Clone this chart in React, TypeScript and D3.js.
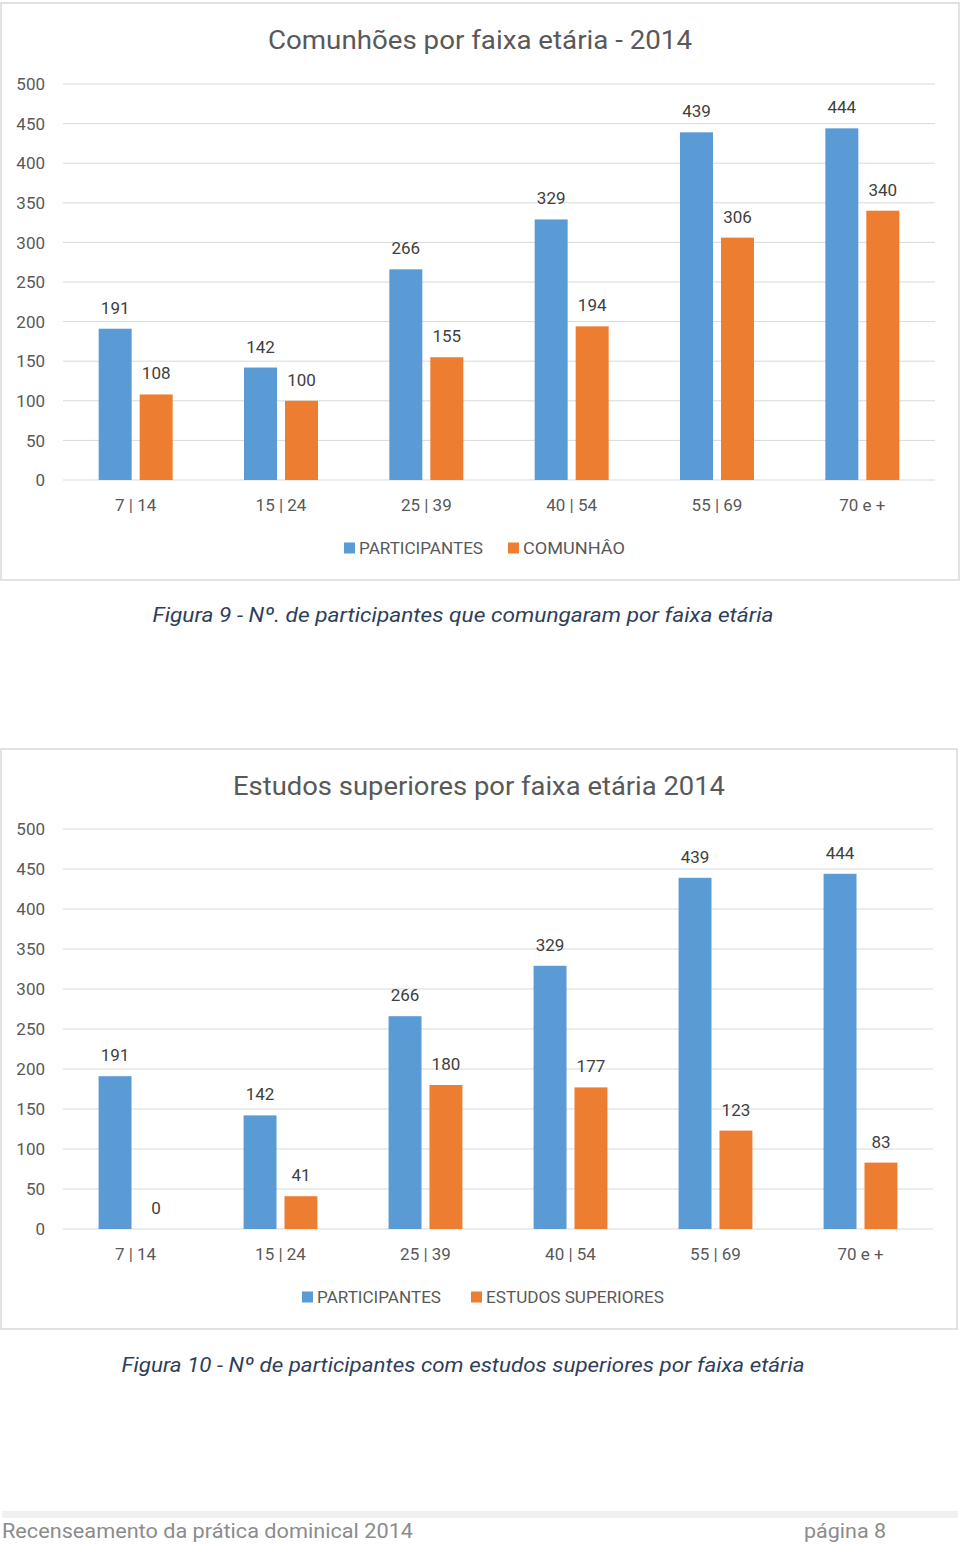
import React from "react";
import * as d3 from "d3";

const categories = ["7 | 14", "15 | 24", "25 | 39", "40 | 54", "55 | 69", "70 e +"];
const participantes = [191, 142, 266, 329, 439, 444];
const comunhao = [108, 100, 155, 194, 306, 340];
const estudosSuperiores = [0, 41, 180, 177, 123, 83];
const yTicks = [0, 50, 100, 150, 200, 250, 300, 350, 400, 450, 500];

const BLUE = "#5B9BD5";
const ORANGE = "#ED7D31";
const FONT = "Roboto, 'Open Sans', sans-serif";

type ChartProps = {
  box: { x: number; y: number; w: number; h: number };
  title: string;
  titleY: number;
  titleX: number;
  titleLen: number;
  x0: number;
  x1: number;
  yTop: number;
  yBottom: number;
  series: { name: string; values: number[]; color: string }[];
  catY: number;
  legendY: number;
  legendX: number[];
  legendLen: number[];
};

function Chart(p: ChartProps) {
  const x = d3.scaleBand<string>().domain(categories).range([p.x0, p.x1]).paddingInner(0).paddingOuter(0);
  const inner = d3
    .scaleBand<string>()
    .domain(p.series.map((s) => s.name))
    .range([0, x.bandwidth()])
    .paddingInner(8 / 41)
    .paddingOuter(0.87);
  const y = d3.scaleLinear().domain([0, 500]).range([p.yBottom, p.yTop]);
  return (
    <g>
      <rect x={p.box.x} y={p.box.y} width={p.box.w} height={p.box.h} fill="#fff" stroke="#d9d9d9" strokeWidth={1.5} />
      <text x={p.titleX} y={p.titleY} textAnchor="middle" fontSize={26} fill="#595959" fontFamily={FONT} textLength={p.titleLen} lengthAdjust="spacingAndGlyphs">
        {p.title}
      </text>
      {yTicks.map((t) => (
        <g key={t}>
          <line x1={p.x0} x2={p.x1} y1={y(t)} y2={y(t)} stroke="#d9d9d9" strokeWidth={1} />
          <text x={45} y={y(t)} dy="0.36em" textAnchor="end" fontSize={17} fill="#595959" fontFamily={FONT}>
            {t}
          </text>
        </g>
      ))}
      {categories.map((c, i) => (
        <g key={c}>
          {p.series.map((s) => {
            const bx = (x(c) as number) + (inner(s.name) as number);
            const v = s.values[i];
            return (
              <g key={s.name}>
                <rect x={bx} y={y(v)} width={inner.bandwidth()} height={y(0) - y(v)} fill={s.color} />
                <text x={bx + inner.bandwidth() / 2} y={y(v) - 15} textAnchor="middle" fontSize={17} fill="#404040" fontFamily={FONT}>
                  {v}
                </text>
              </g>
            );
          })}
          <text x={(x(c) as number) + x.bandwidth() / 2} y={p.catY} textAnchor="middle" fontSize={17} fill="#595959" fontFamily={FONT}>
            {c}
          </text>
        </g>
      ))}
      {p.series.map((s, i) => (
        <g key={s.name}>
          <rect x={p.legendX[i]} y={p.legendY - 5.5} width={11} height={11} fill={s.color} />
          <text x={p.legendX[i] + 15} y={p.legendY} dy="0.36em" fontSize={17} fill="#595959" fontFamily={FONT} textLength={p.legendLen[i]} lengthAdjust="spacingAndGlyphs">
            {s.name}
          </text>
        </g>
      ))}
    </g>
  );
}

export default function App() {
  return (
    <div style={{ position: "absolute", left: 0, top: 0 }}>
      <svg width={960} height={1544} style={{ display: "block" }}>
        <rect x={0} y={0} width={960} height={1544} fill="#fff" />
        <Chart
          box={{ x: 1, y: 3, w: 958, h: 577 }}
          title="Comunhões por faixa etária - 2014"
          titleX={480}
          titleY={49}
          titleLen={424}
          x0={63}
          x1={935}
          yTop={84}
          yBottom={480}
          series={[
            { name: "PARTICIPANTES", values: participantes, color: BLUE },
            { name: "COMUNHÂO", values: comunhao, color: ORANGE },
          ]}
          catY={511}
          legendY={548}
          legendX={[344, 508]}
          legendLen={[124, 102]}
        />
        <text x={463} y={622} textAnchor="middle" fontSize={21} fontStyle="italic" fill="#2F3E5C" fontFamily={FONT} textLength={621} lengthAdjust="spacingAndGlyphs">
          Figura 9 - Nº. de participantes que comungaram por faixa etária
        </text>
        <Chart
          box={{ x: 1, y: 749, w: 956, h: 580 }}
          title="Estudos superiores por faixa etária 2014"
          titleX={479}
          titleY={795}
          titleLen={492}
          x0={63}
          x1={933}
          yTop={829}
          yBottom={1229}
          series={[
            { name: "PARTICIPANTES", values: participantes, color: BLUE },
            { name: "ESTUDOS SUPERIORES", values: estudosSuperiores, color: ORANGE },
          ]}
          catY={1260}
          legendY={1297}
          legendX={[302, 471]}
          legendLen={[124, 178]}
        />
        <text x={463} y={1372} textAnchor="middle" fontSize={21} fontStyle="italic" fill="#2F3E5C" fontFamily={FONT} textLength={683} lengthAdjust="spacingAndGlyphs">
          Figura 10 - Nº de participantes com estudos superiores por faixa etária
        </text>
        <rect x={2} y={1511} width={956} height={7} fill="#f0f0f0" />
        <text x={2} y={1538} fontSize={21} fill="#8c8c8c" fontFamily={FONT} textLength={411} lengthAdjust="spacingAndGlyphs">
          Recenseamento da prática dominical 2014
        </text>
        <text x={804} y={1538} fontSize={21} fill="#8c8c8c" fontFamily={FONT} textLength={82} lengthAdjust="spacingAndGlyphs">
          página 8
        </text>
      </svg>
    </div>
  );
}
